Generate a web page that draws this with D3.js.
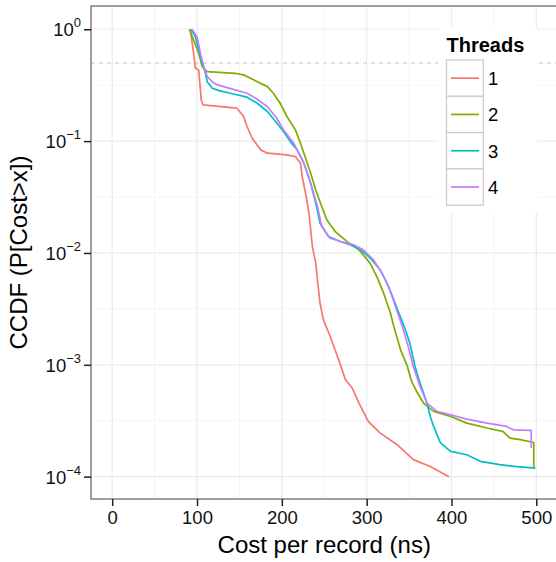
<!DOCTYPE html>
<html>
<head>
<meta charset="utf-8">
<script src="https://cdn.jsdelivr.net/npm/d3@7"></script>
<style>
  body { margin: 0; background: #fff; }
  svg text { font-family: "Liberation Sans", Arial, Helvetica, sans-serif; }
</style>
</head>
<body>
<svg width="556" height="562"></svg>
<script>
const threads = ['1', '2', '3', '4'];
const colors = ['#F8766D', '#7CAE00', '#00BFC4', '#C77CFF'];

// values (cost in ns, CCDF)
const cost1 = [92, 96, 98, 102, 105, 107, 147, 155, 159, 165, 175, 183, 206, 216, 222, 224, 228, 232, 236, 240, 242, 245, 249, 257, 267, 275, 283, 291, 302, 316, 336, 355, 375, 397];
const ccdf1 = [1, 0.61, 0.45, 0.43, 0.233, 0.211, 0.197, 0.166, 0.135, 0.106, 0.0835, 0.078, 0.0753, 0.0727, 0.0635, 0.0482, 0.0342, 0.0227, 0.0114, 0.0081, 0.00575, 0.00356, 0.00252, 0.00179, 0.00111, 0.000735, 0.000619, 0.000455, 0.000311, 0.000245, 0.000193, 0.000142, 0.000123, 0.0001];

const cost2 = [91, 96, 102, 106, 112, 145, 155, 163, 171, 183, 190, 198, 206, 216, 222, 228, 234, 240, 247, 253, 263, 277, 291, 304, 312, 320, 328, 332, 340, 348, 353, 359, 367, 379, 399, 418, 442, 461, 469, 481, 497, 497];
const ccdf2 = [1, 0.8, 0.61, 0.463, 0.418, 0.404, 0.391, 0.365, 0.34, 0.307, 0.268, 0.218, 0.166, 0.126, 0.0958, 0.0703, 0.0516, 0.0366, 0.026, 0.0198, 0.0155, 0.0126, 0.01066, 0.00811, 0.00615, 0.00437, 0.0029, 0.0022, 0.00136, 0.000966, 0.00071, 0.000577, 0.000455, 0.000383, 0.000345, 0.000301, 0.000272, 0.000253, 0.000221, 0.000214, 0.000202, 0.000119];

const cost3 = [93, 98, 104, 110, 112, 118, 126, 139, 159, 171, 183, 194, 202, 210, 218, 226, 234, 240, 245, 255, 269, 281, 293, 304, 316, 324, 332, 338, 345, 351, 357, 363, 371, 375, 379, 387, 399, 418, 434, 457, 477, 499];
const ccdf3 = [1, 0.859, 0.569, 0.404, 0.34, 0.297, 0.283, 0.268, 0.247, 0.218, 0.184, 0.145, 0.122, 0.099, 0.0835, 0.0635, 0.042, 0.0279, 0.0185, 0.014, 0.01265, 0.0118, 0.01066, 0.009, 0.00707, 0.00537, 0.00381, 0.0029, 0.00213, 0.00156, 0.000966, 0.000687, 0.000455, 0.000345, 0.000281, 0.0002, 0.000168, 0.000157, 0.000137, 0.000128, 0.000123, 0.000119];

const cost4 = [94, 100, 104, 108, 112, 118, 124, 145, 159, 171, 183, 194, 202, 214, 226, 234, 242, 247, 257, 269, 285, 296, 308, 318, 326, 334, 342, 348, 355, 363, 371, 383, 399, 418, 442, 465, 473, 494, 494];
const ccdf4 = [1, 0.859, 0.61, 0.463, 0.377, 0.34, 0.318, 0.287, 0.268, 0.237, 0.203, 0.16, 0.126, 0.0958, 0.0635, 0.042, 0.026, 0.0172, 0.01355, 0.01265, 0.0118, 0.01066, 0.00869, 0.00659, 0.00501, 0.00332, 0.0022, 0.00156, 0.000966, 0.00064, 0.000455, 0.000383, 0.000357, 0.000327, 0.000301, 0.000281, 0.000262, 0.000259, 0.00018];

const xTicks = [0, 100, 200, 300, 400, 500];
const xMinor = [50, 150, 250, 350, 450];
const yTicks = [1, 0.1, 0.01, 0.001, 0.0001];
const yExps = ['0', '\u22121', '\u22122', '\u22123', '\u22124'];
const yMinor = [Math.pow(10, -0.5), Math.pow(10, -1.5), Math.pow(10, -2.5), Math.pow(10, -3.5)];
const refLine = 0.5;

const series = [
  { name: threads[0], cost: cost1, ccdf: ccdf1 },
  { name: threads[1], cost: cost2, ccdf: ccdf2 },
  { name: threads[2], cost: cost3, ccdf: ccdf3 },
  { name: threads[3], cost: cost4, ccdf: ccdf4 },
];

const svg = d3.select('svg');
const pLeft = 91, pTop = 6, pRight = 557.5, pBottom = 499;

const x = d3.scaleLinear().domain([-25, 525]).range([pLeft, pRight]);
const y = d3.scaleLog().domain([Math.pow(10, -4.2), Math.pow(10, 0.208)]).range([pBottom, pTop]);
const color = d3.scaleOrdinal().domain(threads).range(colors);

// grid
const grid = svg.append('g');
grid.selectAll('.xm').data(xMinor).join('line')
  .attr('x1', d => x(d)).attr('x2', d => x(d)).attr('y1', pTop).attr('y2', pBottom)
  .attr('stroke', '#f5f5f5').attr('stroke-width', 1);
grid.selectAll('.ym').data(yMinor).join('line')
  .attr('x1', pLeft).attr('x2', pRight).attr('y1', d => y(d)).attr('y2', d => y(d))
  .attr('stroke', '#f5f5f5').attr('stroke-width', 1);
grid.selectAll('.xM').data(xTicks).join('line')
  .attr('x1', d => x(d)).attr('x2', d => x(d)).attr('y1', pTop).attr('y2', pBottom)
  .attr('stroke', '#ebebeb').attr('stroke-width', 1.2);
grid.selectAll('.yM').data(yTicks).join('line')
  .attr('x1', pLeft).attr('x2', pRight).attr('y1', d => y(d)).attr('y2', d => y(d))
  .attr('stroke', '#ebebeb').attr('stroke-width', 1.2);

// dashed reference line at 0.5
svg.append('line')
  .attr('x1', pLeft).attr('x2', pRight).attr('y1', y(refLine)).attr('y2', y(refLine))
  .attr('stroke', '#c8c8c8').attr('stroke-width', 1.1).attr('stroke-dasharray', '4,4');

// curves
const line = d3.line().x(d => x(d[0])).y(d => y(d[1]));
svg.append('g').selectAll('path').data(series).join('path')
  .attr('d', s => line(d3.zip(s.cost, s.ccdf)))
  .attr('fill', 'none')
  .attr('stroke', s => color(s.name))
  .attr('stroke-width', 1.7)
  .attr('stroke-linejoin', 'round');

// panel border
svg.append('rect')
  .attr('x', pLeft).attr('y', pTop).attr('width', pRight - pLeft).attr('height', pBottom - pTop)
  .attr('fill', 'none').attr('stroke', '#7f7f7f').attr('stroke-width', 1.5);

// axes
const xAxis = svg.append('g').attr('transform', `translate(0,${pBottom})`)
  .call(d3.axisBottom(x).tickValues(xTicks).tickSize(7).tickPadding(5));
xAxis.select('.domain').remove();
xAxis.selectAll('.tick line').attr('stroke', '#222').attr('stroke-width', 1.5);
xAxis.selectAll('.tick text').attr('font-size', 18.5).attr('fill', '#111')
  .attr('font-family', '"Liberation Sans", Arial, sans-serif');

const yAxis = svg.append('g').attr('transform', `translate(${pLeft},0)`)
  .call(d3.axisLeft(y).tickValues(yTicks).tickSize(7).tickFormat(''));
yAxis.select('.domain').remove();
yAxis.selectAll('.tick line').attr('stroke', '#222').attr('stroke-width', 1.5);

const yLab = svg.append('g').selectAll('text').data(yTicks).join('text')
  .attr('x', 81).attr('y', d => y(d) + 7)
  .attr('text-anchor', 'end').attr('fill', '#111');
yLab.append('tspan').attr('font-size', 18.5).text('10');
yLab.append('tspan').attr('font-size', 13).attr('dy', -9).text((d, i) => yExps[i]);

// axis titles
svg.append('text')
  .attr('x', (pLeft + pRight) / 2).attr('y', 553)
  .attr('text-anchor', 'middle').attr('font-size', 24).attr('fill', '#000')
  .text('Cost per record (ns)');
svg.append('text')
  .attr('transform', `translate(27,${(pTop + pBottom) / 2}) rotate(-90)`)
  .attr('text-anchor', 'middle').attr('font-size', 24).attr('fill', '#000')
  .text('CCDF (P[Cost>x])');

// legend
const lg = svg.append('g');
lg.append('rect').attr('x', 438).attr('y', 28).attr('width', 99).attr('height', 185).attr('fill', '#fff');
lg.append('text').attr('x', 446.5).attr('y', 51.5)
  .attr('font-size', 20).attr('font-weight', 'bold').text('Threads');
const keyH = 36.3;
const key = lg.selectAll('.key').data(threads).join('g')
  .attr('transform', (d, i) => `translate(446.5,${60 + i * keyH})`);
key.append('rect').attr('width', 36.8).attr('height', keyH)
  .attr('fill', '#fff').attr('stroke', '#cccccc').attr('stroke-width', 1.3);
key.append('line').attr('x1', 4.5).attr('x2', 32.5).attr('y1', keyH / 2).attr('y2', keyH / 2)
  .attr('stroke', d => color(d)).attr('stroke-width', 1.7);
key.append('text').attr('x', 41.5).attr('y', keyH / 2 + 7)
  .attr('font-size', 18.5).text(d => d);
</script>
</body>
</html>
